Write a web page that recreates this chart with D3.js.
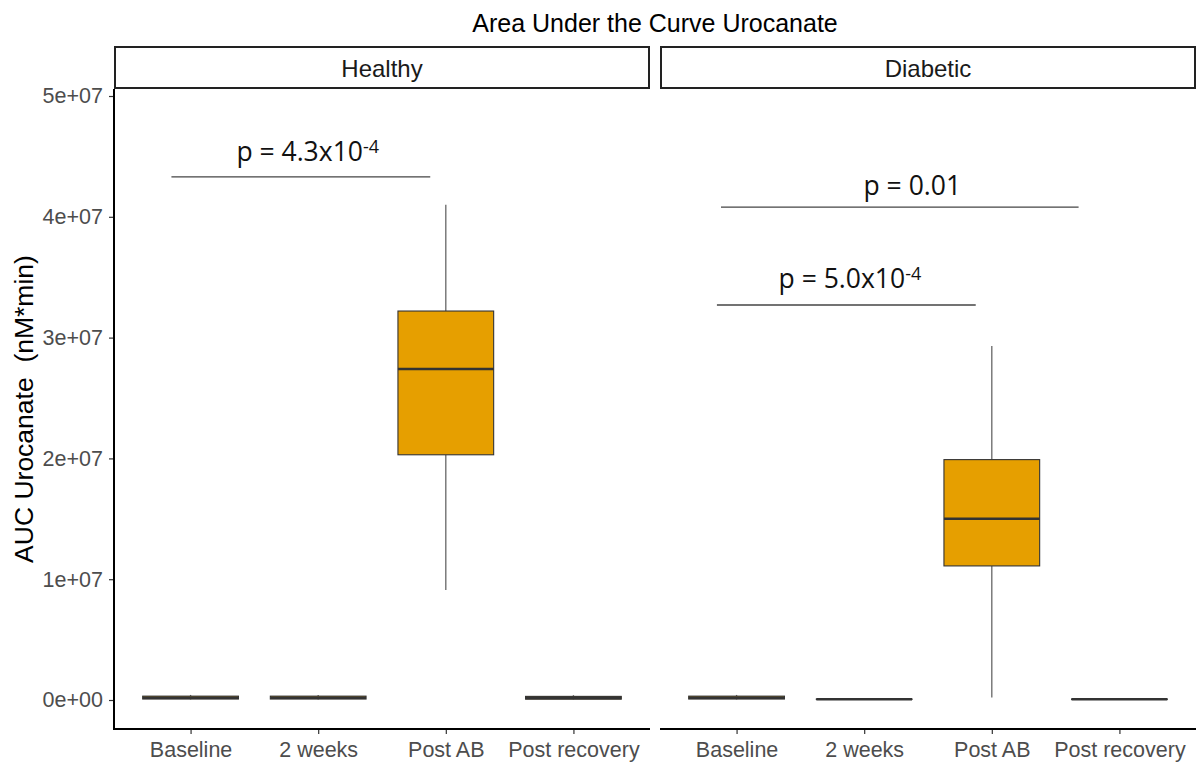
<!DOCTYPE html>
<html>
<head>
<meta charset="utf-8">
<script src="https://cdn.jsdelivr.net/npm/d3@7"></script>
<style>
  html, body { margin: 0; padding: 0; background: #ffffff; }
  svg { display: block; }
</style>
</head>
<body>
<svg id="chart" width="1198" height="764"></svg>
<script>
// ---------------- data ----------------
const chartTitle = "Area Under the Curve Urocanate";
const yAxisTitle = "AUC Urocanate  (nM*min)";
const panels = ["Healthy", "Diabetic"];
const categories = ["Baseline", "2 weeks", "Post AB", "Post recovery"];
// [whisker low, Q1, median, Q3, whisker high]
const healthyStats = [
  [0.4e5, 0.8e5, 1.9e5, 3.2e5, 4.2e5],
  [0.4e5, 0.8e5, 1.9e5, 3.2e5, 4.2e5],
  [0.91e7, 2.03e7, 2.74e7, 3.22e7, 4.10e7],
  [0.4e5, 0.7e5, 1.7e5, 3.0e5, 4.0e5]
];
const diabeticStats = [
  [0.4e5, 0.8e5, 1.9e5, 3.2e5, 4.2e5],
  [0.3e5, 0.5e5, 0.6e5, 0.8e5, 0.9e5],
  [0.02e7, 1.11e7, 1.50e7, 1.99e7, 2.93e7],
  [0.3e5, 0.5e5, 0.6e5, 0.8e5, 0.9e5]
];
const yTicks = [0, 1e7, 2e7, 3e7, 4e7, 5e7];
const yTickLabels = ["0e+00", "1e+07", "2e+07", "3e+07", "4e+07", "5e+07"];
const yDomain = [-0.24e7, 5.058e7];
// significance brackets: category-index span (Baseline = 1), value, label
const healthyBrackets = [
  { from: 0.85, to: 2.878, value: 4.33e7, text: "p = 4.3x10", sup: "-4", labelAt: 1.918, labelValue: 4.462e7 }
];
const diabeticBrackets = [
  { from: 0.878, to: 3.68, value: 4.08e7, text: "p = 0.01", sup: "", labelAt: 2.377, labelValue: 4.18e7 },
  { from: 0.846, to: 2.874, value: 3.27e7, text: "p = 5.0x10", sup: "-4", labelAt: 1.888, labelValue: 3.41e7 }
];

// ---------------- layout ----------------
const svg = d3.select("#chart");
const plotTop = 89, plotBottom = 729;
const panelLeft = 114, panelGap = 10, panelRight = 1196;
const panelW = (panelRight - panelLeft - panelGap) / 2;
const stripTop = 47;
const boxFill = "#E69F00";
const textFont = "'Liberation Sans', Arial, sans-serif";
const annFont = "'Open Sans', 'Noto Sans', sans-serif";

const y = d3.scaleLinear().domain(yDomain).range([plotBottom, plotTop]);

// title
svg.append("text")
  .attr("x", (panelLeft + panelRight) / 2)
  .attr("y", 32)
  .attr("text-anchor", "middle")
  .attr("font-family", textFont)
  .attr("font-size", 25)
  .attr("fill", "#000")
  .text(chartTitle);

// y axis title
svg.append("text")
  .attr("transform", `translate(33, 409) rotate(-90)`)
  .attr("text-anchor", "middle")
  .attr("font-family", textFont)
  .attr("font-size", 26.5)
  .attr("fill", "#000")
  .style("white-space", "pre")
  .text(yAxisTitle);

const panelData = [
  { name: panels[0], stats: healthyStats, brackets: healthyBrackets },
  { name: panels[1], stats: diabeticStats, brackets: diabeticBrackets }
];

panelData.forEach((p, pi) => {
  const x0 = panelLeft + pi * (panelW + panelGap);
  const x1 = x0 + panelW;
  const x = d3.scalePoint().domain(categories).range([x0, x1]).padding(0.6);
  const xi = d3.scaleLinear().domain([0.4, categories.length + 0.6]).range([x0, x1]);
  const bw = x.step() * 0.75;

  const g = svg.append("g");

  // strip
  g.append("rect")
    .attr("x", x0 + 1).attr("y", stripTop)
    .attr("width", panelW - 2).attr("height", plotTop - stripTop - 1)
    .attr("fill", "#fff").attr("stroke", "#222").attr("stroke-width", 2);
  g.append("text")
    .attr("x", (x0 + x1) / 2).attr("y", 77)
    .attr("text-anchor", "middle")
    .attr("font-family", textFont).attr("font-size", 24)
    .attr("fill", "#1a1a1a")
    .text(p.name);

  // x axis
  const xAxis = d3.axisBottom(x).tickSize(5).tickPadding(8);
  const xa = g.append("g").attr("transform", `translate(0,${plotBottom})`).call(xAxis);
  xa.select(".domain").remove();
  xa.selectAll(".tick line").attr("stroke", "#333").attr("stroke-width", 1.2);
  xa.selectAll(".tick text")
    .attr("font-family", textFont).attr("font-size", 21.5).attr("fill", "#4D4D4D");
  g.append("line")
    .attr("x1", x0).attr("x2", x1).attr("y1", plotBottom).attr("y2", plotBottom)
    .attr("stroke", "#000").attr("stroke-width", 2);

  if (pi === 0) {
    const yAxis = d3.axisLeft(y).tickValues(yTicks).tickFormat((d, i) => yTickLabels[i]).tickSize(5).tickPadding(6);
    const ya = g.append("g").attr("transform", `translate(${x0},0)`).call(yAxis);
    ya.select(".domain").remove();
    ya.selectAll(".tick line").attr("stroke", "#333").attr("stroke-width", 1.2);
    ya.selectAll(".tick text")
      .attr("font-family", textFont).attr("font-size", 21.5).attr("fill", "#4D4D4D");
    g.append("line")
      .attr("x1", x0).attr("x2", x0).attr("y1", plotTop).attr("y2", plotBottom + 1)
      .attr("stroke", "#000").attr("stroke-width", 2);
  }

  // boxes
  p.stats.forEach((s, i) => {
    const cx = x(categories[i]);
    const [lo, q1, med, q3, hi] = s;
    g.append("line")
      .attr("x1", cx).attr("x2", cx).attr("y1", y(q3)).attr("y2", y(hi))
      .attr("stroke", "#666").attr("stroke-width", 1.3);
    g.append("line")
      .attr("x1", cx).attr("x2", cx).attr("y1", y(q1)).attr("y2", y(lo))
      .attr("stroke", "#666").attr("stroke-width", 1.3);
    g.append("rect")
      .attr("x", cx - bw / 2).attr("y", y(q3))
      .attr("width", bw).attr("height", Math.max(0.01, y(q1) - y(q3)))
      .attr("fill", boxFill).attr("stroke", "#333").attr("stroke-width", 1.1);
    g.append("line")
      .attr("x1", cx - bw / 2).attr("x2", cx + bw / 2).attr("y1", y(med)).attr("y2", y(med))
      .attr("stroke", "#333").attr("stroke-width", 2.4);
  });

  // brackets
  p.brackets.forEach(b => {
    g.append("line")
      .attr("x1", xi(b.from)).attr("x2", xi(b.to))
      .attr("y1", y(b.value)).attr("y2", y(b.value))
      .attr("stroke", "#444").attr("stroke-width", 1.3);
    const t = g.append("text")
      .attr("x", xi(b.labelAt)).attr("y", y(b.labelValue))
      .attr("text-anchor", "middle")
      .attr("font-family", annFont).attr("font-size", 26.5).attr("fill", "#111");
    t.append("tspan").text(b.text);
    if (b.sup) {
      t.append("tspan").attr("dy", -8).attr("font-size", 18).text(b.sup);
    }
  });
});
</script>
</body>
</html>
